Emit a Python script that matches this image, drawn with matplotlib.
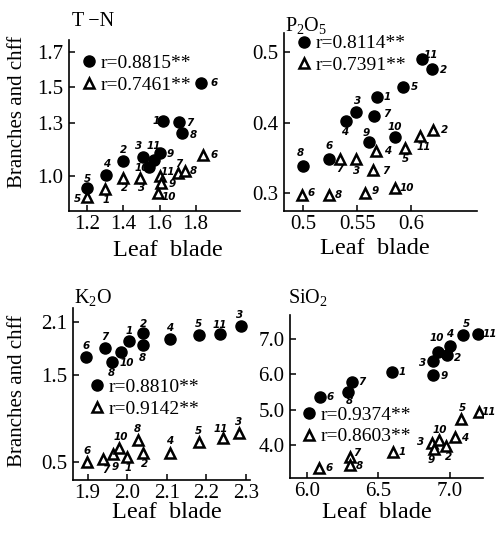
import matplotlib
matplotlib.use("Agg")
import matplotlib.pyplot as plt

plt.rcParams["font.family"] = ["Liberation Serif", "DejaVu Serif"]
plt.rcParams["mathtext.fontset"] = "custom"
plt.rcParams["mathtext.rm"] = "Liberation Serif"
plt.rcParams["mathtext.default"] = "regular"

# ---- T-N ----
tn_fill_id = ["1", "2", "3", "4", "5", "6", "7", "8", "9", "10", "11"]
tn_fill_x = [1.617, 1.400, 1.507, 1.304, 1.200, 1.831, 1.706, 1.724, 1.604, 1.539, 1.570]
tn_fill_y = [1.311, 1.084, 1.109, 1.006, 0.931, 1.525, 1.306, 1.240, 1.131, 1.053, 1.090]
tn_open_id = ["5", "1", "2", "3", "11", "9", "10", "7", "8", "6"]
tn_open_x = [1.200, 1.298, 1.396, 1.493, 1.600, 1.607, 1.589, 1.700, 1.743, 1.840]
tn_open_y = [0.884, 0.925, 0.987, 0.987, 1.000, 0.962, 0.906, 1.015, 1.030, 1.118]
tn_r = ["r=0.8815**", "r=0.7461**"]

# ---- P2O5 ----
p_fill_id = ["1", "2", "3", "4", "5", "6", "7", "8", "9", "10", "11"]
p_fill_x = [0.5683, 0.6196, 0.5490, 0.5394, 0.5925, 0.5236, 0.5658, 0.5000, 0.5606, 0.5845, 0.6102]
p_fill_y = [0.437, 0.476, 0.415, 0.402, 0.450, 0.349, 0.410, 0.339, 0.372, 0.380, 0.490]
p_open_id = ["6", "8", "7", "3", "9", "4", "7", "10", "5", "11", "2"]
p_open_x = [0.4984, 0.5236, 0.5335, 0.5490, 0.5575, 0.5677, 0.5646, 0.5845, 0.5938, 0.6081, 0.6205]
p_open_y = [0.298, 0.298, 0.348, 0.348, 0.301, 0.360, 0.333, 0.308, 0.364, 0.381, 0.390]
p_r = ["r=0.8114**", "r=0.7391**"]

# ---- K2O ----
k_fill_id = ["6", "7", "8", "10", "1", "2", "8", "4", "5", "11", "3"]
k_fill_x = [1.897, 1.944, 1.961, 1.984, 2.005, 2.041, 2.039, 2.108, 2.180, 2.233, 2.287]
k_fill_y = [1.705, 1.801, 1.648, 1.755, 1.885, 1.974, 1.839, 1.908, 1.954, 1.962, 2.062]
k_open_id = ["6", "7", "9", "10", "1", "8", "2", "4", "5", "11", "3"]
k_open_x = [1.898, 1.940, 1.965, 1.980, 2.000, 2.026, 2.039, 2.108, 2.180, 2.241, 2.281]
k_open_y = [0.498, 0.529, 0.583, 0.659, 0.556, 0.748, 0.594, 0.594, 0.728, 0.767, 0.824]
k_r = ["r=0.8810**", "r=0.9142**"]

# ---- SiO2 ----
s_fill_id = ["6", "8", "7", "1", "3", "9", "10", "2", "4", "5", "11"]
s_fill_x = [6.093, 6.291, 6.314, 6.598, 6.884, 6.884, 6.919, 6.977, 7.000, 7.093, 7.198]
s_fill_y = [5.368, 5.509, 5.774, 6.075, 6.387, 5.981, 6.642, 6.547, 6.800, 7.113, 7.142]
s_open_id = ["6", "7", "8", "1", "3", "9", "10", "2", "4", "5", "11"]
s_open_x = [6.088, 6.302, 6.302, 6.600, 6.872, 6.888, 6.926, 6.972, 7.035, 7.074, 7.205]
s_open_y = [3.340, 3.642, 3.434, 3.783, 4.047, 3.887, 4.142, 3.972, 4.236, 4.736, 4.943]
s_r = ["r=0.9374**", "r=0.8603**"]

titles = ["T\u2009\u2212N", "P$_2$O$_5$", "K$_2$O", "SiO$_2$"]
xticks = [[1.2, 1.4, 1.6, 1.8], [0.5, 0.55, 0.6], [1.9, 2.0, 2.1, 2.2, 2.3], [6.0, 6.5, 7.0]]
xticklabels = [["1.2", "1.4", "1.6", "1.8"], ["0.5", "0.55", "0.6"],
               ["1.9", "2.0", "2.1", "2.2", "2.3"], ["6.0", "6.5", "7.0"]]
yticks = [[1.0, 1.3, 1.5, 1.7], [0.3, 0.4, 0.5], [0.5, 1.5, 2.1], [4.0, 5.0, 6.0, 7.0]]
yticklabels = [["1.0", "1.3", "1.5", "1.7"], ["0.3", "0.4", "0.5"],
               ["0.5", "1.5", "2.1"], ["4.0", "5.0", "6.0", "7.0"]]

# layout (pixel boxes left, top, right, bottom in a 498x535 figure)
W, H = 498, 535
boxes = [(69, 40, 240, 211), (284, 33, 477, 211), (73, 308, 250, 480), (290, 315, 483, 478)]
xlims = [(1.098, 2.046), (0.482, 0.661), (1.863, 2.31), (5.884, 7.23)]
ylims = [(0.803, 1.766), (0.275, 0.527), (0.288, 2.265), (3.06, 7.68)]
legend_anchor = [(0.07, 0.915), (0.065, 0.99), (0.09, 0.59), (0.06, 0.44)]
title_pos = [(72, 22), (285, 25), (74, 297), (288, 297)]
xlabel_pos = [(168, 250), (375, 248), (167, 513), (377, 513)]

# label offsets (points) for the point numbers
tn_fill_off = [(-5, 0), (0, 8), (-3, 8), (0, 8), (0, 7), (9, 0), (8, -1), (8, -1), (7, -1), (-5, -1), (0, 10)]
tn_open_off = [(-7, -2), (1, -8), (1, -7), (1, -7), (6, 3), (8, -1), (8, -3), (1, 7), (6, 0), (8, 0)]
p_fill_off = [(7, 0), (8, -1), (1, 8), (-1, -8), (8, 0), (0, 9), (9, 1), (-2, 9), (-2, 7), (0, 7), (6, 3)]
p_open_off = [(7, 1), (7, 0), (0, -7), (0, -8), (7, 1), (8, 0), (9, -1), (9, 0), (1, -8), (3, -8), (8, 0)]
k_fill_off = [(0, 8), (0, 8), (0, -8), (4, -8), (0, 7), (0, 7), (0, -9), (0, 8), (0, 8), (0, 7), (-1, 8)]
k_open_off = [(0, 8), (2, -8), (1, -9), (1, 8), (1, -8), (0, 8), (1, -8), (0, 9), (0, 8), (-1, 7), (0, 8)]
s_fill_off = [(7, 0), (1, -7), (7, 0), (7, 0), (-8, -2), (8, -1), (-1, 10), (8, -2), (0, 9), (2, 8), (8, 0)]
s_open_off = [(7, 0), (5, 3), (7, -1), (7, 0), (-8, 1), (-2, -8), (0, 7), (2, -8), (7, -1), (1, 8), (7, 0)]

panels = [
    (tn_fill_id, tn_fill_x, tn_fill_y, tn_open_id, tn_open_x, tn_open_y, tn_r, tn_fill_off, tn_open_off),
    (p_fill_id, p_fill_x, p_fill_y, p_open_id, p_open_x, p_open_y, p_r, p_fill_off, p_open_off),
    (k_fill_id, k_fill_x, k_fill_y, k_open_id, k_open_x, k_open_y, k_r, k_fill_off, k_open_off),
    (s_fill_id, s_fill_x, s_fill_y, s_open_id, s_open_x, s_open_y, s_r, s_fill_off, s_open_off),
]

fig = plt.figure(figsize=(W / 100, H / 100), dpi=100)
num_font = dict(family="DejaVu Sans", fontsize=7.5, fontweight="bold", fontstyle="italic")

for i, (fid, fx, fy, oid, ox, oy, rr, foff, ooff) in enumerate(panels):
    l, t, r, b = boxes[i]
    ax = fig.add_axes([l / W, 1 - b / H, (r - l) / W, (b - t) / H])
    ax.set_xlim(*xlims[i])
    ax.set_ylim(*ylims[i])
    for s in ["top", "right"]:
        ax.spines[s].set_visible(False)
    for s in ["left", "bottom"]:
        ax.spines[s].set_linewidth(1.2)
    ax.set_xticks(xticks[i])
    ax.set_xticklabels(xticklabels[i])
    ax.set_yticks(yticks[i])
    ax.set_yticklabels(yticklabels[i])
    ax.tick_params(direction="in", length=4, width=1.1, labelsize=15)
    ax.tick_params(axis="x", pad=3)
    ax.tick_params(axis="y", pad=4)
    ax.patch.set_alpha(0)

    h1, = ax.plot(fx, fy, "o", color="black", markersize=8, linestyle="none", label=rr[0])
    h2, = ax.plot(ox, oy, "^", markerfacecolor="white", markeredgecolor="black",
                  markeredgewidth=1.8, markersize=7, linestyle="none", label=rr[1])
    for k in range(len(fid)):
        ax.annotate(fid[k], (fx[k], fy[k]), xytext=foff[k], textcoords="offset points",
                    ha="center", va="center", **num_font)
    for k in range(len(oid)):
        ax.annotate(oid[k], (ox[k], oy[k]), xytext=ooff[k], textcoords="offset points",
                    ha="center", va="center", **num_font)

    ax.legend(handles=[h1, h2], loc="upper left", bbox_to_anchor=legend_anchor[i],
              frameon=False, fontsize=14, handlelength=0.8, handletextpad=0.2,
              labelspacing=0.2, borderpad=0, borderaxespad=0)

    fig.text(title_pos[i][0] / W, 1 - title_pos[i][1] / H, titles[i],
             ha="left", va="center", fontsize=14.5)
    fig.text(xlabel_pos[i][0] / W, 1 - xlabel_pos[i][1] / H, "Leaf  blade",
             ha="center", va="center", fontsize=17.5)

fig.text(18 / W, 1 - 112 / H, "Branches and chff", rotation=90, ha="center", va="center", fontsize=15)
fig.text(18 / W, 1 - 391 / H, "Branches and chff", rotation=90, ha="center", va="center", fontsize=15)

fig.savefig("out.png", dpi=100)
